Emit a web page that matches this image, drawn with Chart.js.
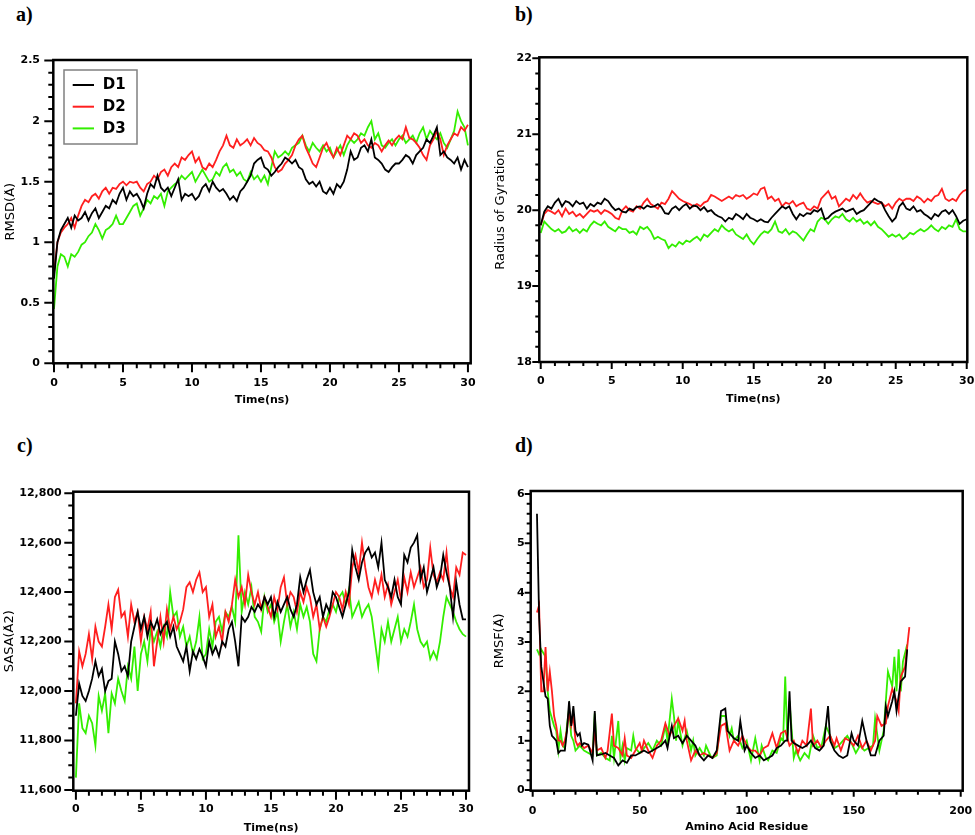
<!DOCTYPE html>
<html>
<head>
<meta charset="utf-8">
<script src="https://cdn.jsdelivr.net/npm/chart.js@4.4.1/dist/chart.umd.min.js"></script>
<style>
  body { margin: 0; background: #fff; }
  #page { position: relative; width: 975px; height: 835px; overflow: hidden; background: #fff; }
  canvas { position: absolute; }
  .tag { position: absolute; font: bold 20px/20px "Liberation Serif", serif; color: #000; }
</style>
</head>
<body>
<div id="page">
  <div class="tag" style="left:16px;top:4px">a)</div>
  <div class="tag" style="left:515px;top:4px">b)</div>
  <div class="tag" style="left:17px;top:435px">c)</div>
  <div class="tag" style="left:515px;top:435px">d)</div>
  <canvas id="rmsd" width="487" height="358" style="left:4px;top:48px"></canvas>
  <canvas id="rg" width="481" height="360" style="left:494px;top:45px"></canvas>
  <canvas id="sasa" width="487" height="354" style="left:3px;top:480px"></canvas>
  <canvas id="rmsf" width="482" height="354" style="left:493px;top:479px"></canvas>
</div>
<script>
const names = ['D1', 'D2', 'D3'];
const colors = ['#000000', '#ff1f1f', '#33ee00'];

// simulation time, 0 to 30 ns every 0.25 ns
const time = [];
for (let i = 0; i <= 120; i++) time.push(i / 4);

// a) RMSD (Å)
const rmsdD1 = [
  0.70,1.00,1.10,1.15, 1.20,1.12,1.22,1.18,
  1.20,1.25,1.18,1.24, 1.28,1.20,1.25,1.30,
  1.28,1.35,1.32,1.40, 1.45,1.35,1.42,1.38,
  1.40,1.35,1.28,1.40, 1.48,1.45,1.55,1.45,
  1.42,1.45,1.38,1.45, 1.52,1.35,1.40,1.38,
  1.40,1.35,1.38,1.45, 1.48,1.42,1.50,1.45,
  1.42,1.44,1.40,1.35, 1.38,1.34,1.42,1.45,
  1.50,1.55,1.65,1.68, 1.70,1.62,1.60,1.55,
  1.58,1.62,1.65,1.70, 1.68,1.65,1.68,1.62,
  1.60,1.52,1.48,1.50, 1.46,1.50,1.42,1.40,
  1.45,1.40,1.48,1.45, 1.50,1.60,1.75,1.68,
  1.70,1.78,1.80,1.75, 1.85,1.70,1.68,1.65,
  1.60,1.58,1.62,1.65, 1.65,1.68,1.72,1.70,
  1.65,1.72,1.75,1.78, 1.85,1.82,1.88,1.95,
  1.72,1.75,1.70,1.68, 1.65,1.70,1.60,1.68,
  1.62];
const rmsdD2 = [
  0.75,1.00,1.08,1.12, 1.15,1.20,1.12,1.22,
  1.30,1.35,1.33,1.38, 1.40,1.36,1.42,1.45,
  1.40,1.45,1.44,1.48, 1.50,1.47,1.50,1.49,
  1.50,1.45,1.42,1.48, 1.50,1.55,1.52,1.58,
  1.60,1.55,1.62,1.65, 1.62,1.70,1.68,1.72,
  1.75,1.66,1.70,1.62, 1.60,1.65,1.62,1.68,
  1.75,1.80,1.88,1.80, 1.78,1.85,1.80,1.82,
  1.85,1.80,1.86,1.82, 1.80,1.76,1.75,1.70,
  1.62,1.58,1.60,1.65, 1.68,1.72,1.80,1.85,
  1.88,1.78,1.72,1.65, 1.62,1.70,1.78,1.82,
  1.75,1.70,1.78,1.72, 1.80,1.88,1.85,1.90,
  1.88,1.82,1.85,1.80, 1.78,1.82,1.80,1.75,
  1.80,1.84,1.80,1.85, 1.88,1.85,1.95,1.86,
  1.85,1.82,1.78,1.72, 1.68,1.80,1.85,1.92,
  1.85,1.72,1.80,1.85, 1.90,1.88,1.95,1.92,
  1.97];
const rmsdD3 = [
  0.45,0.80,0.90,0.88, 0.80,0.90,0.88,0.92,
  0.98,1.00,1.05,1.08, 1.15,1.10,1.03,1.10,
  1.12,1.15,1.22,1.15, 1.15,1.20,1.25,1.30,
  1.32,1.22,1.28,1.35, 1.32,1.38,1.36,1.40,
  1.30,1.42,1.45,1.48, 1.50,1.55,1.52,1.55,
  1.58,1.50,1.55,1.60, 1.55,1.50,1.52,1.58,
  1.55,1.62,1.65,1.58, 1.60,1.55,1.58,1.52,
  1.50,1.58,1.52,1.55, 1.50,1.55,1.48,1.62,
  1.75,1.70,1.72,1.75, 1.72,1.78,1.80,1.82,
  1.88,1.80,1.75,1.82, 1.78,1.75,1.80,1.75,
  1.78,1.70,1.75,1.80, 1.72,1.80,1.85,1.82,
  1.85,1.90,1.88,1.95, 2.00,1.85,1.90,1.80,
  1.78,1.82,1.85,1.80, 1.85,1.88,1.82,1.85,
  1.88,1.82,1.90,1.95, 1.85,1.92,1.88,1.85,
  1.90,1.82,1.78,1.85, 1.92,2.08,2.00,1.95,
  1.80];

// b) radius of gyration
const rgD1 = [
  19.80,19.98,20.05,20.02, 20.10,20.15,20.05,20.12,
  20.10,20.05,20.12,20.08, 20.10,20.02,20.08,20.05,
  20.10,20.08,20.15,20.12, 20.05,20.00,20.02,19.98,
  19.97,20.02,20.00,20.04, 20.05,20.02,20.06,20.04,
  20.05,20.08,20.04,19.96, 19.95,20.02,20.05,20.00,
  20.05,20.08,20.02,20.06, 20.05,20.00,20.04,19.98,
  20.00,19.95,19.92,19.90, 19.85,19.90,19.88,19.95,
  19.92,19.88,19.95,19.90, 19.88,19.85,19.88,19.85,
  19.84,19.90,19.95,20.00, 20.05,20.02,20.05,19.95,
  19.88,19.95,19.92,19.96, 19.95,20.00,19.98,20.02,
  19.88,19.90,19.95,19.98, 20.00,20.02,19.98,20.00,
  20.02,19.95,19.98,20.00, 20.05,20.10,20.15,20.12,
  20.10,20.00,19.92,19.85, 19.90,20.05,20.10,20.02,
  20.00,20.05,19.98,20.00, 19.95,19.92,19.88,19.95,
  19.92,19.98,20.00,19.95, 20.00,19.92,19.82,19.86,
  19.88];
const rgD2 = [
  19.80,19.95,20.00,19.98, 19.95,20.00,19.92,20.02,
  19.95,19.98,19.92,19.95, 19.90,19.95,20.00,19.98,
  20.00,19.95,20.00,19.98, 19.95,19.90,19.88,20.00,
  20.05,20.00,19.98,20.05, 20.02,20.10,20.15,20.08,
  20.05,20.02,20.10,20.08, 20.15,20.25,20.20,20.15,
  20.12,20.10,20.08,20.05, 20.08,20.05,20.10,20.12,
  20.20,20.18,20.15,20.12, 20.15,20.18,20.15,20.20,
  20.18,20.20,20.15,20.18, 20.22,20.20,20.28,20.30,
  20.15,20.18,20.12,20.15, 20.05,20.10,20.08,20.12,
  20.05,20.08,20.10,20.02, 20.00,20.05,20.02,20.15,
  20.20,20.25,20.15,20.18, 20.05,20.10,20.15,20.12,
  20.20,20.15,20.22,20.15, 20.10,20.12,20.10,20.08,
  20.10,20.05,20.08,20.02, 20.10,20.15,20.12,20.15,
  20.15,20.12,20.18,20.15, 20.10,20.15,20.12,20.18,
  20.20,20.28,20.15,20.12, 20.15,20.12,20.20,20.25,
  20.27];
const rgD3 = [
  19.70,19.85,19.80,19.75, 19.72,19.75,19.70,19.72,
  19.78,19.72,19.75,19.70, 19.75,19.72,19.80,19.85,
  19.82,19.80,19.85,19.78, 19.75,19.72,19.78,19.75,
  19.75,19.70,19.72,19.68, 19.78,19.75,19.78,19.72,
  19.62,19.65,19.62,19.60, 19.50,19.55,19.52,19.58,
  19.55,19.60,19.58,19.62, 19.65,19.60,19.68,19.65,
  19.70,19.75,19.72,19.80, 19.75,19.72,19.75,19.68,
  19.65,19.62,19.68,19.60, 19.55,19.62,19.68,19.72,
  19.70,19.75,19.85,19.72, 19.70,19.75,19.68,19.72,
  19.70,19.65,19.60,19.68, 19.75,19.72,19.85,19.90,
  19.88,19.82,19.88,19.92, 19.90,19.95,19.88,19.85,
  19.90,19.85,19.88,19.82, 19.85,19.80,19.85,19.78,
  19.75,19.70,19.65,19.68, 19.65,19.68,19.62,19.65,
  19.70,19.68,19.72,19.75, 19.72,19.75,19.80,19.75,
  19.72,19.78,19.75,19.80, 19.78,19.88,19.75,19.72,
  19.72];

// c) SASA (Å2)
const sasaD1 = [
  11900,12030,11980,11960, 12000,12050,12120,12060,
  12090,12000,12040,12050, 12200,12150,12080,12100,
  12060,12200,12260,12320, 12250,12300,12220,12280,
  12250,12290,12230,12260, 12280,12220,12260,12180,
  12150,12120,12180,12080, 12160,12130,12170,12140,
  12100,12200,12150,12180, 12140,12200,12180,12250,
  12280,12200,12100,12300, 12280,12300,12340,12320,
  12350,12330,12380,12350, 12380,12300,12360,12320,
  12350,12380,12330,12300, 12350,12460,12400,12450,
  12490,12400,12350,12380, 12300,12350,12320,12400,
  12380,12340,12300,12350, 12400,12570,12500,12450,
  12520,12560,12580,12540, 12560,12500,12600,12450,
  12420,12380,12450,12380, 12350,12550,12520,12580,
  12600,12630,12450,12500, 12400,12450,12500,12420,
  12460,12550,12480,12420, 12300,12440,12350,12290,
  12290];
const sasaD2 = [
  11950,12160,12100,12150, 12230,12130,12260,12200,
  12180,12260,12350,12250, 12380,12410,12300,12320,
  12220,12350,12280,12320, 12200,12300,12250,12320,
  12100,12200,12300,12200, 12330,12250,12300,12250,
  12280,12330,12420,12440, 12400,12450,12480,12400,
  12420,12300,12350,12220, 12260,12200,12320,12280,
  12350,12450,12380,12420, 12350,12470,12400,12350,
  12400,12330,12380,12340, 12300,12380,12330,12420,
  12460,12350,12400,12380, 12320,12400,12360,12420,
  12380,12300,12350,12250, 12300,12260,12300,12350,
  12400,12380,12330,12400, 12350,12500,12550,12480,
  12600,12500,12420,12380, 12450,12400,12470,12380,
  12430,12350,12400,12450, 12370,12460,12400,12480,
  12420,12460,12500,12420, 12450,12580,12470,12440,
  12480,12450,12560,12420, 12380,12500,12470,12560,
  12550];
const sasaD3 = [
  11650,11950,11850,11830, 11900,11870,11780,11980,
  11920,11990,11830,11990, 11950,12050,12000,11960,
  12100,12050,12180,12000, 12150,12200,12120,12250,
  12200,12240,12180,12260, 12220,12400,12300,12320,
  12220,12260,12180,12220, 12150,12200,12300,12130,
  12150,12250,12180,12280, 12300,12240,12320,12300,
  12340,12280,12630,12320, 12400,12350,12420,12300,
  12280,12240,12380,12320, 12350,12280,12320,12200,
  12280,12350,12260,12320, 12250,12350,12300,12340,
  12280,12150,12120,12250, 12300,12280,12330,12350,
  12320,12380,12400,12350, 12410,12300,12330,12360,
  12300,12330,12350,12300, 12200,12100,12250,12200,
  12280,12200,12250,12300, 12200,12250,12220,12280,
  12350,12250,12200,12180, 12200,12130,12160,12130,
  12200,12300,12380,12350, 12320,12280,12250,12230,
  12220];

// d) RMSF (Å) per residue, [residue, value]
const rmsfD1 = [
  [2,5.6],[3,3.5],[4,2.5],[5,2.2],[6,1.9],[7,1.85],[8,1.3],[9,1.1],[10,1.05],[11,1.0],
  [12,0.75],[13,0.8],[14,0.8],[15,0.8],[16,1.2],[17,1.8],[18,1.3],[19,1.7],[20,1.2],[21,1.1],
  [22,1.15],[23,0.9],[24,0.95],[26,0.92],[28,0.6],[29,1.6],[30,0.7],[32,0.72],[34,0.75],[36,0.7],
  [38,0.65],[40,0.5],[42,0.6],[44,0.55],[46,0.7],[48,0.7],[50,0.75],[52,0.8],[54,0.75],[56,0.8],
  [58,0.85],[60,0.9],[62,1.0],[63,0.85],[64,1.1],[65,1.3],[66,1.05],[68,1.1],[70,0.95],[72,1.1],
  [74,1.0],[76,0.9],[78,0.7],[80,0.6],[82,0.7],[84,0.65],[86,0.8],[88,1.6],[90,1.65],[91,1.2],
  [92,1.15],[94,1.05],[96,1.0],[97,1.4],[99,0.8],[100,0.9],[102,0.75],[104,0.65],[106,0.7],[108,0.6],
  [110,0.65],[112,0.7],[114,0.85],[116,0.9],[118,1.0],[119,1.0],[120,2.0],[121,1.0],[122,0.95],[124,0.9],
  [126,0.85],[128,0.9],[130,1.0],[132,0.85],[134,0.8],[136,0.9],[138,1.7],[139,1.0],[141,0.8],[143,0.7],
  [145,0.65],[147,0.7],[149,1.15],[150,1.0],[152,0.9],[154,1.4],[156,1.0],[158,0.7],[160,0.7],[162,1.0],
  [164,1.1],[165,1.7],[166,1.5],[168,1.8],[169,2.0],[170,1.6],[172,2.2],[174,2.3],[175,2.85]];
const rmsfD2 = [
  [2,3.6],[3,3.75],[4,2.0],[5,2.0],[6,2.9],[7,2.0],[8,2.4],[9,2.0],[10,1.5],[11,1.3],
  [12,1.0],[13,1.0],[14,0.9],[15,1.0],[16,1.2],[17,1.6],[18,1.3],[19,1.5],[20,1.0],[21,0.9],
  [22,0.95],[24,0.85],[26,0.9],[28,0.75],[29,1.2],[30,0.8],[32,0.85],[34,0.65],[35,0.8],[37,1.55],
  [38,0.9],[40,0.85],[42,0.7],[43,1.05],[44,0.7],[46,0.65],[48,0.8],[50,0.95],[51,0.8],[52,1.0],
  [54,0.8],[56,0.65],[58,0.9],[60,1.0],[62,1.35],[64,1.1],[66,1.3],[68,1.45],[70,1.2],[71,1.4],
  [72,1.0],[74,0.6],[76,0.8],[78,0.7],[80,0.75],[82,0.7],[84,0.65],[86,0.75],[88,1.3],[90,1.35],
  [92,0.8],[94,1.0],[96,0.9],[98,1.1],[100,0.9],[102,0.8],[104,0.8],[106,0.7],[108,0.85],[110,0.9],
  [112,1.15],[114,0.85],[116,1.15],[118,1.2],[120,0.9],[122,1.0],[124,0.75],[126,1.0],[128,0.9],[130,1.65],
  [131,0.9],[133,1.0],[135,0.85],[137,1.0],[139,1.1],[141,0.9],[142,1.05],[144,0.8],[146,1.05],[148,1.0],
  [150,0.9],[152,1.1],[154,0.85],[156,1.0],[158,0.8],[160,1.0],[161,1.5],[163,1.3],[165,1.35],[166,1.7],
  [168,2.05],[170,1.8],[171,1.6],[172,2.3],[174,2.5],[176,3.3]];
const rmsfD3 = [
  [2,2.85],[3,2.75],[4,2.85],[6,2.7],[7,2.0],[8,1.6],[10,1.3],[11,1.2],[12,0.8],[13,1.2],
  [14,0.9],[15,0.85],[16,1.3],[17,1.65],[18,1.1],[19,1.0],[20,0.8],[22,0.9],[24,0.8],[26,0.75],
  [28,0.7],[29,1.55],[30,0.7],[32,0.75],[34,0.65],[36,0.6],[37,1.1],[38,0.65],[40,1.4],[41,0.65],
  [42,0.9],[43,0.6],[44,0.85],[46,0.8],[47,1.1],[48,0.85],[50,0.75],[52,0.85],[54,0.95],[56,0.8],
  [58,1.0],[60,0.9],[61,1.1],[62,1.3],[63,1.0],[65,1.85],[66,1.5],[67,1.0],[68,1.4],[70,0.9],
  [72,1.2],[74,0.8],[75,1.0],[76,0.7],[78,0.85],[80,0.7],[81,0.9],[83,0.7],[84,0.65],[86,0.7],
  [88,1.5],[90,1.5],[92,1.1],[93,1.25],[94,1.0],[96,1.1],[98,0.85],[100,1.0],[102,0.6],[104,1.05],
  [106,0.6],[107,0.9],[109,0.65],[110,0.6],[112,0.8],[114,0.75],[116,1.05],[117,1.0],[118,2.3],[119,1.0],
  [120,1.8],[122,0.65],[123,0.8],[125,0.6],[127,0.75],[129,0.65],[131,1.1],[133,0.85],[135,0.9],[137,1.3],
  [139,1.1],[141,0.85],[143,0.9],[145,1.0],[147,1.1],[149,0.95],[151,0.75],[153,0.9],[155,0.8],[157,0.85],
  [159,0.9],[160,1.45],[162,0.8],[164,1.2],[166,2.4],[168,2.1],[169,2.7],[170,2.0],[171,2.85],[172,2.0],
  [173,2.6],[175,2.95]];

const timeTicks = [0, 5, 10, 15, 20, 25, 30];
const rmsdTicks = [0, 0.5, 1, 1.5, 2, 2.5];
const rgTicks = [18, 19, 20, 21, 22];
const sasaTicks = [11600, 11800, 12000, 12200, 12400, 12600, 12800];
const residueTicks = [0, 50, 100, 150, 200];
const rmsfTicks = [0, 1, 2, 3, 4, 5, 6];

function onTime(values, name) {
  if (values.length !== time.length) throw new Error(name + ' has ' + values.length + ' values');
  return values.map((v, i) => ({x: time[i], y: v}));
}
function onResidue(pairs) {
  return pairs.map(p => ({x: p[0], y: p[1]}));
}
function steps(from, to, step) {
  const out = [];
  for (let i = 0; from + i * step <= to + 1e-9; i++) out.push(+(from + i * step).toFixed(6));
  return out;
}

// frame, major/minor tick marks and the D1-D3 legend box
const framePlugin = {
  id: 'frame',
  afterDatasetsDraw(chart, args, o) {
    const {ctx, chartArea: a, scales: {x, y}} = chart;
    ctx.save();
    ctx.strokeStyle = '#000';
    ctx.lineWidth = 2;
    ctx.beginPath();
    steps(o.xFrom, o.xTo, o.xMinor).forEach(v => {
      const px = x.getPixelForValue(v);
      const major = Math.abs(v / o.xMajor - Math.round(v / o.xMajor)) < 1e-6;
      ctx.moveTo(px, a.bottom);
      ctx.lineTo(px, a.bottom + (major ? o.major : o.minor));
    });
    steps(o.yFrom, o.yTo, o.yMinor).forEach(v => {
      const py = y.getPixelForValue(v);
      const major = Math.abs(v / o.yMajor - Math.round(v / o.yMajor)) < 1e-6;
      ctx.moveTo(a.left, py);
      ctx.lineTo(a.left - (major ? o.major : o.minor), py);
    });
    ctx.stroke();
    ctx.lineWidth = 2.5;
    ctx.strokeRect(a.left, a.top, a.right - a.left, a.bottom - a.top);
    if (o.legend) {
      const bx = a.left + 10.7, by = a.top + 10;
      ctx.lineWidth = 1.5;
      ctx.strokeStyle = '#808080';
      ctx.strokeRect(bx, by, 73, 74);
      ctx.font = 'bold 15px "DejaVu Sans"';
      ctx.textBaseline = 'middle';
      ctx.textAlign = 'left';
      chart.data.datasets.forEach((ds, k) => {
        const ly = by + 15 + k * 21.7;
        ctx.strokeStyle = ds.borderColor;
        ctx.lineWidth = 2;
        ctx.beginPath();
        ctx.moveTo(bx + 8.7, ly);
        ctx.lineTo(bx + 30, ly);
        ctx.stroke();
        ctx.fillStyle = '#000';
        ctx.fillText(ds.label, bx + 38.7, ly + 0.5);
      });
    }
    ctx.restore();
  }
};

const tickFont = {family: 'DejaVu Sans', size: 11, weight: 'bold'};
const xTitleFont = {family: 'DejaVu Sans', size: 11, weight: 'bold', lineHeight: 1};
const yTitleFont = {family: 'DejaVu Sans', size: 13, lineHeight: 1};

function panel(id, p) {
  return new Chart(document.getElementById(id), {
    type: 'line',
    data: {
      datasets: p.series.map((s, k) => ({
        label: names[k], data: s, borderColor: colors[k], borderWidth: 1.8,
        pointRadius: 0, tension: 0, fill: false
      }))
    },
    options: {
      responsive: false,
      animation: false,
      events: [],
      layout: {padding: {top: p.padTop, right: p.padRight, bottom: 0, left: 0}},
      plugins: {legend: {display: false}, tooltip: {enabled: false}, frame: p.frame},
      scales: {
        x: {
          type: 'linear', min: p.xMin, max: p.xMax,
          afterBuildTicks: s => { s.ticks = p.xTicks.map(v => ({value: v})); },
          afterFit: s => { s.height = p.xh; s.paddingLeft = 0; s.paddingRight = 0; },
          grid: {display: false, drawTicks: false}, border: {display: false},
          ticks: {padding: p.xPad, font: tickFont, color: '#000', autoSkip: false, maxRotation: 0,
                  callback: v => v.toLocaleString('en-US')},
          title: {display: true, text: p.xTitle, font: xTitleFont, color: '#000', padding: 0}
        },
        y: {
          type: 'linear', min: p.yMin, max: p.yMax,
          afterBuildTicks: s => { s.ticks = p.yTicks.map(v => ({value: v})); },
          afterFit: s => { s.width = p.yw; s.paddingTop = 0; s.paddingBottom = 0; },
          grid: {display: false, drawTicks: false}, border: {display: false},
          ticks: {padding: p.yPad, font: tickFont, color: '#000', autoSkip: false,
                  callback: v => v.toLocaleString('en-US')},
          title: {display: true, text: p.yTitle, font: yTitleFont, color: '#000', padding: 0}
        }
      }
    },
    plugins: [framePlugin]
  });
}

panel('rmsd', {
  series: [onTime(rmsdD1, 'rmsdD1'), onTime(rmsdD2, 'rmsdD2'), onTime(rmsdD3, 'rmsdD3')],
  padTop: 12, padRight: 20.3, yw: 49.3, xh: 42.7, xPad: 13.4, yPad: 13.3,
  xMin: -0.05, xMax: 30.2, yMin: 0, yMax: 2.505,
  xTicks: timeTicks, yTicks: rmsdTicks, xTitle: 'Time(ns)', yTitle: 'RMSD(Å)',
  frame: {xFrom: 0, xTo: 30, xMinor: 1, xMajor: 5, yFrom: 0, yTo: 2.5, yMinor: 0.1, yMajor: 0.5,
          major: 9, minor: 5, legend: true}
});

panel('rg', {
  series: [onTime(rgD1, 'rgD1'), onTime(rgD2, 'rgD2'), onTime(rgD3, 'rgD3')],
  padTop: 12.3, padRight: 7.7, yw: 45.3, xh: 43, xPad: 12.1, yPad: 7.5,
  xMin: -0.1, xMax: 30.04, yMin: 18, yMax: 22.013,
  xTicks: timeTicks, yTicks: rgTicks, xTitle: 'Time(ns)', yTitle: 'Radius of Gyration',
  frame: {xFrom: 0, xTo: 30, xMinor: 1, xMajor: 5, yFrom: 18, yTo: 22, yMinor: 0.2, yMajor: 1,
          major: 7, minor: 4}
});

panel('sasa', {
  series: [onTime(sasaD1, 'sasaD1'), onTime(sasaD2, 'sasaD2'), onTime(sasaD3, 'sasaD3')],
  padTop: 11.7, padRight: 21, yw: 70.3, xh: 43.3, xPad: 11.4, yPad: 11.6,
  xMin: -0.2, xMax: 30.23, yMin: 11597, yMax: 12806,
  xTicks: timeTicks, yTicks: sasaTicks, xTitle: 'Time(ns)', yTitle: 'SASA(Å2)',
  frame: {xFrom: 0, xTo: 30, xMinor: 1, xMajor: 5, yFrom: 11600, yTo: 12800, yMinor: 50, yMajor: 200,
          major: 9, minor: 5}
});

panel('rmsf', {
  series: [onResidue(rmsfD1), onResidue(rmsfD2), onResidue(rmsfD3)],
  padTop: 12, padRight: 12.3, yw: 37.7, xh: 42.3, xPad: 13.4, yPad: 6,
  xMin: -0.93, xMax: 200.93, yMin: -0.014, yMax: 6.06,
  xTicks: residueTicks, yTicks: rmsfTicks, xTitle: 'Amino Acid Residue', yTitle: 'RMSF(Å)',
  frame: {xFrom: 0, xTo: 200, xMinor: 10, xMajor: 50, yFrom: 0, yTo: 6, yMinor: 0.2, yMajor: 1,
          major: 6, minor: 4}
});
</script>
</body>
</html>
